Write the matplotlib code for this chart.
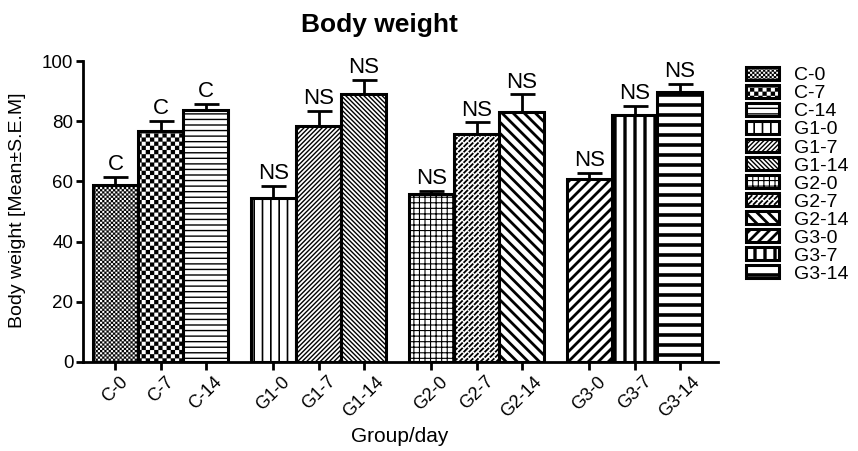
import re
import warnings
import matplotlib
matplotlib.use('Agg')
import matplotlib.pyplot as plt
from matplotlib import hatch as mhatch
from matplotlib.path import Path

warnings.filterwarnings('ignore')

labels = ['C-0', 'C-7', 'C-14', 'G1-0', 'G1-7', 'G1-14',
          'G2-0', 'G2-7', 'G2-14', 'G3-0', 'G3-7', 'G3-14']
means = [58.8, 76.8, 83.7, 54.6, 78.4, 89.0, 55.7, 75.6, 83.2, 60.7, 82.1, 89.6]
sem = [2.7, 3.2, 2.1, 4.0, 5.0, 4.7, 1.2, 4.0, 5.7, 2.2, 2.9, 2.8]
marks = ['C', 'C', 'C', 'NS', 'NS', 'NS', 'NS', 'NS', 'NS', 'NS', 'NS', 'NS']

# custom fill patterns: kind letter + count per hatch tile
hatches = ['k23', 'k12', 'h18', 'v12', 'f22', 'b22', 'g18', 'd19', 'b9', 'f10', 'v10', 'h10']
hatch_lw = [0.1, 0.1, 1.0, 1.2, 1.0, 1.0, 0.8, 1.3, 2.0, 2.0, 2.4, 2.6]


class SpecHatch(mhatch.HatchPatternBase):
    def __init__(self, hatch, density):
        self.verts, self.codes = [], []
        for kind, n in re.findall(r'([khvfbgd])(\d+)', hatch or ''):
            getattr(self, 'add_' + kind)(int(n))
        self.num_vertices = len(self.codes)

    def seg(self, x0, y0, x1, y1):
        self.verts += [(x0, y0), (x1, y1)]
        self.codes += [Path.MOVETO, Path.LINETO]

    def add_h(self, n):
        for i in range(n):
            self.seg(0, (i + 0.5) / n, 1, (i + 0.5) / n)

    def add_v(self, n):
        for i in range(n):
            self.seg((i + 0.5) / n, 0, (i + 0.5) / n, 1)

    def add_g(self, n):
        self.add_h(n)
        self.add_v(n)

    def add_f(self, n):
        for i in range(-n, n + 1):
            self.seg(0, i / n, 1, 1 + i / n)

    def add_b(self, n):
        for i in range(0, 2 * n + 1):
            self.seg(0, i / n, 1, i / n - 1)

    def add_d(self, n):
        for i in range(n):
            for j in range(n):
                self.seg((i + 0.2) / n, (j + 0.2) / n, (i + 0.8) / n, (j + 0.8) / n)

    def add_k(self, n):
        s = 0.5 / n
        for i in range(n):
            for j in range(n):
                for x0, y0 in ((i / n, j / n), (i / n + s, j / n + s)):
                    self.verts += [(x0, y0), (x0 + s, y0), (x0 + s, y0 + s),
                                   (x0, y0 + s), (x0, y0)]
                    self.codes += [Path.MOVETO, Path.LINETO, Path.LINETO,
                                   Path.LINETO, Path.CLOSEPOLY]

    def set_vertices_and_codes(self, vertices, codes):
        vertices[:] = self.verts
        codes[:] = self.codes


mhatch._hatch_types.append(SpecHatch)

plt.rcParams['font.family'] = ['Liberation Sans', 'DejaVu Sans']
plt.rcParams['hatch.linewidth'] = 1.0

W, H = 858, 451
fig = plt.figure(figsize=(W / 100, H / 100), dpi=100)
ax = fig.add_axes([83 / W, 1 - 362 / H, (718 - 83) / W, (362 - 61) / H])

xpos = [g * 3.5 + j for g in range(4) for j in range(3)]

handles = []
for i in range(len(labels)):
    bars = ax.bar(xpos[i], means[i], width=1.0, color='white', edgecolor='black',
                  linewidth=2.2, hatch=hatches[i], label=labels[i], zorder=1)
    for b in bars:
        if hasattr(b, 'set_hatch_linewidth'):
            b.set_hatch_linewidth(hatch_lw[i])
    handles.append(bars)

ax.errorbar(xpos, means, yerr=[[0] * len(sem), sem], fmt='none', ecolor='black',
            elinewidth=2.0, capsize=9, capthick=2.0, zorder=3)

for x, m, e, t in zip(xpos, means, sem, marks):
    ax.text(x, m + e + 0.6, t, ha='center', va='bottom', fontsize=16)

ax.set_xlim(-0.72, 13.35)
ax.set_ylim(0, 100)
ax.set_yticks(range(0, 101, 20))
ax.set_xticks(xpos)
ax.set_xticklabels(labels, rotation=45, ha='center', va='top', fontsize=13)
ax.tick_params(axis='y', labelsize=13.5, width=2, length=5, pad=2)
ax.tick_params(axis='x', width=2, length=6, pad=2)
for s in ['top', 'right']:
    ax.spines[s].set_visible(False)
for s in ['left', 'bottom']:
    ax.spines[s].set_linewidth(2)

fig.text(379 / W, 1 - 32 / H, 'Body weight', ha='center', va='baseline',
         fontsize=19, fontweight='bold')
fig.text(400 / W, 1 - 437 / H, 'Group/day', ha='center', va='center', fontsize=15)
fig.text(18 / W, 1 - 210 / H, 'Body weight [Mean\u00b1S.E.M]', ha='center',
         va='center', rotation=90, fontsize=14)

leg = fig.legend(handles=handles, loc='upper left',
                 bbox_to_anchor=(746 / W, 1 - 67 / H), bbox_transform=fig.transFigure,
                 frameon=False, fontsize=14, labelspacing=0.03, handlelength=1.7,
                 handleheight=0.67, handletextpad=0.77, borderpad=0, borderaxespad=0)
for p, lw in zip(leg.get_patches(), hatch_lw):
    if hasattr(p, 'set_hatch_linewidth'):
        p.set_hatch_linewidth(lw)
    p.set_linewidth(2.2)

fig.savefig('out.png', dpi=100)
